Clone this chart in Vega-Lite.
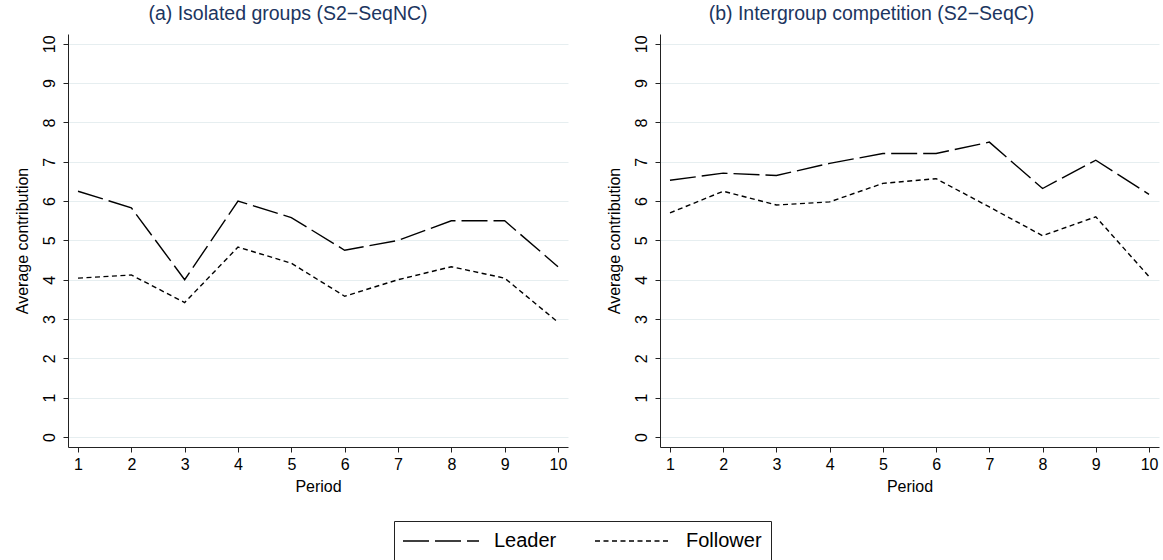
{
  "$schema": "https://vega.github.io/schema/vega-lite/v6.json",
  "padding": {"left": 14, "top": 3, "right": 5, "bottom": 0},
  "background": "white",
  "config": {
    "font": "Liberation Sans",
    "view": {"stroke": null},
    "axis": {
      "domainColor": "#222222",
      "tickColor": "#222222",
      "labelColor": "#000000",
      "titleColor": "#000000",
      "labelFont": "Liberation Sans",
      "titleFont": "Liberation Sans",
      "labelFontSize": 16,
      "titleFontSize": 16,
      "titleFontWeight": "normal",
      "tickSize": 5,
      "gridColor": "#e6eef0",
      "gridWidth": 1
    },
    "title": {"font": "Liberation Sans", "fontSize": 19.5, "fontWeight": "normal", "color": "#1c3560", "anchor": "middle", "baseline": "alphabetic", "offset": 10}
  },
  "data": {"values": [
    {"panel": "a", "role": "Leader", "period": 1, "value": 6.25},
    {"panel": "a", "role": "Leader", "period": 2, "value": 5.83},
    {"panel": "a", "role": "Leader", "period": 3, "value": 4.0},
    {"panel": "a", "role": "Leader", "period": 4, "value": 6.0},
    {"panel": "a", "role": "Leader", "period": 5, "value": 5.58},
    {"panel": "a", "role": "Leader", "period": 6, "value": 4.75},
    {"panel": "a", "role": "Leader", "period": 7, "value": 5.0},
    {"panel": "a", "role": "Leader", "period": 8, "value": 5.5},
    {"panel": "a", "role": "Leader", "period": 9, "value": 5.5},
    {"panel": "a", "role": "Leader", "period": 10, "value": 4.33},
    {"panel": "a", "role": "Follower", "period": 1, "value": 4.04},
    {"panel": "a", "role": "Follower", "period": 2, "value": 4.12},
    {"panel": "a", "role": "Follower", "period": 3, "value": 3.42},
    {"panel": "a", "role": "Follower", "period": 4, "value": 4.83},
    {"panel": "a", "role": "Follower", "period": 5, "value": 4.42},
    {"panel": "a", "role": "Follower", "period": 6, "value": 3.58},
    {"panel": "a", "role": "Follower", "period": 7, "value": 4.0},
    {"panel": "a", "role": "Follower", "period": 8, "value": 4.33},
    {"panel": "a", "role": "Follower", "period": 9, "value": 4.04},
    {"panel": "a", "role": "Follower", "period": 10, "value": 2.92},
    {"panel": "b", "role": "Leader", "period": 1, "value": 6.53},
    {"panel": "b", "role": "Leader", "period": 2, "value": 6.71},
    {"panel": "b", "role": "Leader", "period": 3, "value": 6.65},
    {"panel": "b", "role": "Leader", "period": 4, "value": 6.96},
    {"panel": "b", "role": "Leader", "period": 5, "value": 7.21},
    {"panel": "b", "role": "Leader", "period": 6, "value": 7.21},
    {"panel": "b", "role": "Leader", "period": 7, "value": 7.5},
    {"panel": "b", "role": "Leader", "period": 8, "value": 6.32},
    {"panel": "b", "role": "Leader", "period": 9, "value": 7.04},
    {"panel": "b", "role": "Leader", "period": 10, "value": 6.17},
    {"panel": "b", "role": "Follower", "period": 1, "value": 5.7},
    {"panel": "b", "role": "Follower", "period": 2, "value": 6.25},
    {"panel": "b", "role": "Follower", "period": 3, "value": 5.9},
    {"panel": "b", "role": "Follower", "period": 4, "value": 5.98},
    {"panel": "b", "role": "Follower", "period": 5, "value": 6.45},
    {"panel": "b", "role": "Follower", "period": 6, "value": 6.57},
    {"panel": "b", "role": "Follower", "period": 7, "value": 5.85},
    {"panel": "b", "role": "Follower", "period": 8, "value": 5.12},
    {"panel": "b", "role": "Follower", "period": 9, "value": 5.6},
    {"panel": "b", "role": "Follower", "period": 10, "value": 4.08}
  ]},
  "spacing": 38,
  "hconcat": [
    {
      "title": {"text": "(a) Isolated groups (S2\u2212SeqNC)", "dx": -30},
      "width": 500,
      "height": 413,
      "transform": [{"filter": "datum.panel === 'a'"}],
      "mark": {"type": "line", "color": "black", "strokeWidth": 1.4},
      "encoding": {
        "x": {"field": "period", "type": "quantitative", "title": "Period",
          "scale": {"domain": [0.8125, 10.1875], "nice": false, "zero": false},
          "axis": {"values": [1,2,3,4,5,6,7,8,9,10], "grid": false, "labelPadding": 4, "titlePadding": 6, "labelFlush": false}},
        "y": {"field": "value", "type": "quantitative", "title": "Average contribution",
          "scale": {"domain": [-0.255, 10.25], "nice": false, "zero": false},
          "axis": {"values": [0,1,2,3,4,5,6,7,8,9,10], "grid": true, "labelAngle": 270, "labelAlign": "center", "labelBaseline": "alphabetic", "labelPadding": 9, "titlePadding": 11, "labelFlush": false}},
        "strokeDash": {"field": "role", "type": "nominal",
          "scale": {"domain": ["Leader", "Follower"], "range": [[26, 6], [5, 3.5]]},
          "legend": {"title": null, "orient": "none", "direction": "horizontal", "legendX": 326, "legendY": 487,
            "strokeColor": "#222222", "padding": 9, "labelFontSize": 20, "labelFont": "Liberation Sans", "labelColor": "#000000",
            "symbolType": "M-1.1,0H6.5", "symbolSize": 400, "symbolStrokeWidth": 1.5, "symbolStrokeColor": "#000000",
            "labelOffset": 69, "columnPadding": 35}}
      }
    },
    {
      "title": {"text": "(b) Intergroup competition (S2\u2212SeqC)", "dx": -38},
      "width": 499,
      "height": 413,
      "transform": [{"filter": "datum.panel === 'b'"}],
      "mark": {"type": "line", "color": "black", "strokeWidth": 1.4},
      "encoding": {
        "x": {"field": "period", "type": "quantitative", "title": "Period",
          "scale": {"domain": [0.8125, 10.1875], "nice": false, "zero": false},
          "axis": {"values": [1,2,3,4,5,6,7,8,9,10], "grid": false, "labelPadding": 4, "titlePadding": 6, "labelFlush": false}},
        "y": {"field": "value", "type": "quantitative", "title": "Average contribution",
          "scale": {"domain": [-0.255, 10.25], "nice": false, "zero": false},
          "axis": {"values": [0,1,2,3,4,5,6,7,8,9,10], "grid": true, "labelAngle": 270, "labelAlign": "center", "labelBaseline": "alphabetic", "labelPadding": 9, "titlePadding": 11, "labelFlush": false}},
        "strokeDash": {"field": "role", "type": "nominal",
          "scale": {"domain": ["Leader", "Follower"], "range": [[26, 6], [5, 3.5]]},
          "legend": {"title": null, "orient": "none", "direction": "horizontal", "legendX": 326, "legendY": 487,
            "strokeColor": "#222222", "padding": 9, "labelFontSize": 20, "labelFont": "Liberation Sans", "labelColor": "#000000",
            "symbolType": "M-1.1,0H6.5", "symbolSize": 400, "symbolStrokeWidth": 1.5, "symbolStrokeColor": "#000000",
            "labelOffset": 69, "columnPadding": 35}}
      }
    }
  ]
}
